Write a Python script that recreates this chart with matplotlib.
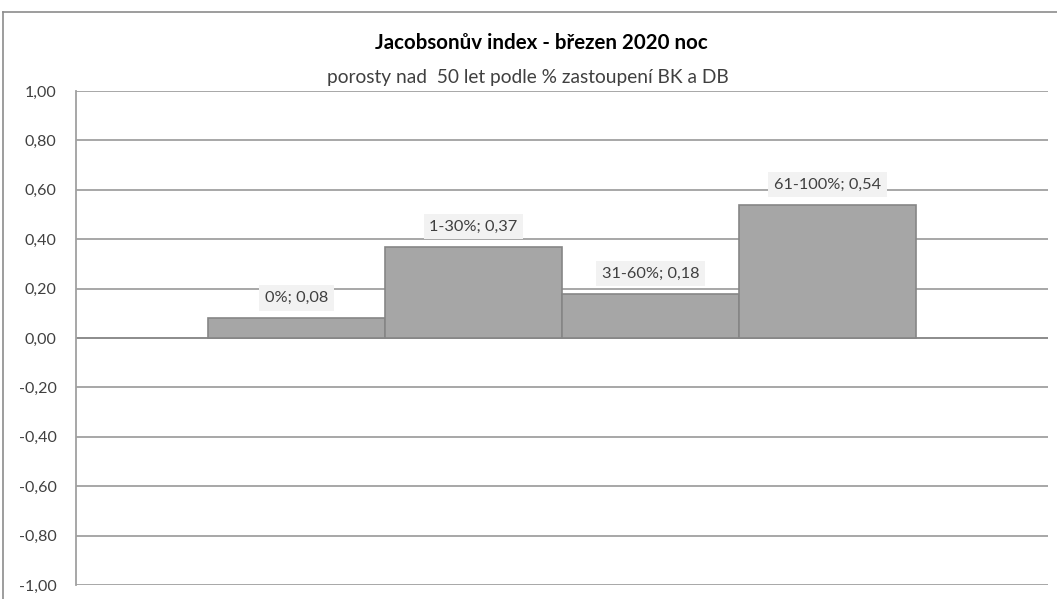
import matplotlib
matplotlib.use("Agg")
import matplotlib.pyplot as plt
from matplotlib.lines import Line2D

categories = ["0%", "1-30%", "31-60%", "61-100%"]
values = [0.08, 0.37, 0.18, 0.54]
yticks = [-1.0, -0.8, -0.6, -0.4, -0.2, 0.0, 0.2, 0.4, 0.6, 0.8, 1.0]

title = "Jacobsonův index - březen 2020 noc"
subtitle = "porosty nad  50 let podle % zastoupení BK a DB"

plt.rcParams['font.family'] = ['Lato', 'DejaVu Sans']

fig = plt.figure(figsize=(10.57, 5.99), dpi=100)
ax = fig.add_axes([76/1057, 1 - 585/599, (1048 - 76)/1057, (585 - 91)/599])

x = list(range(len(categories)))
ax.bar(x, values, width=1.0, color="#a6a6a6", edgecolor="#868686", linewidth=1.2, zorder=3)

ax.set_ylim(-1.0, 1.0)
ax.set_xlim(-0.5 - 0.746, len(categories) - 0.5 + 0.746)
ax.set_yticks(yticks)
ax.set_yticklabels([f"{t:.2f}".replace(".", ",") for t in yticks], fontsize=11.5, color="#404040")
ax.set_xticks([])
ax.tick_params(axis='y', length=0, pad=14)
ax.yaxis.grid(True, color="#a0a0a0", linewidth=1.3, zorder=0)
for s in ["top", "right", "bottom"]:
    ax.spines[s].set_visible(False)
ax.spines["left"].set_color("#a0a0a0")
ax.spines["left"].set_linewidth(1.3)
ax.axhline(0, color="#8c8c8c", linewidth=1.3, zorder=2)

for xi, cat, v in zip(x, categories, values):
    lab = f"{cat}; {v:.2f}".replace(".", ",")
    ax.annotate(lab, xy=(xi, v), xytext=(0, 14.5), textcoords="offset points",
                ha="center", va="center", fontsize=11.8, color="#404040", zorder=5,
                bbox=dict(boxstyle="square,pad=0.35", fc="#f2f2f2", ec="none"))

fig.text(541/1057, 1 - 43/599, title, ha="center", va="center", fontsize=14.8,
         fontweight="bold", color="#000000")
fig.text(527.5/1057, 1 - 78/599, subtitle, ha="center", va="center", fontsize=13.8,
         color="#404040")

# outer chart border
fig.add_artist(Line2D([3/1057, 3/1057], [0, 1 - 12/599], transform=fig.transFigure,
                      color="#8c8c8c", linewidth=1.2))
fig.add_artist(Line2D([3/1057, 1], [1 - 12/599, 1 - 12/599], transform=fig.transFigure,
                      color="#8c8c8c", linewidth=1.2))

fig.savefig("out.png", dpi=100)
